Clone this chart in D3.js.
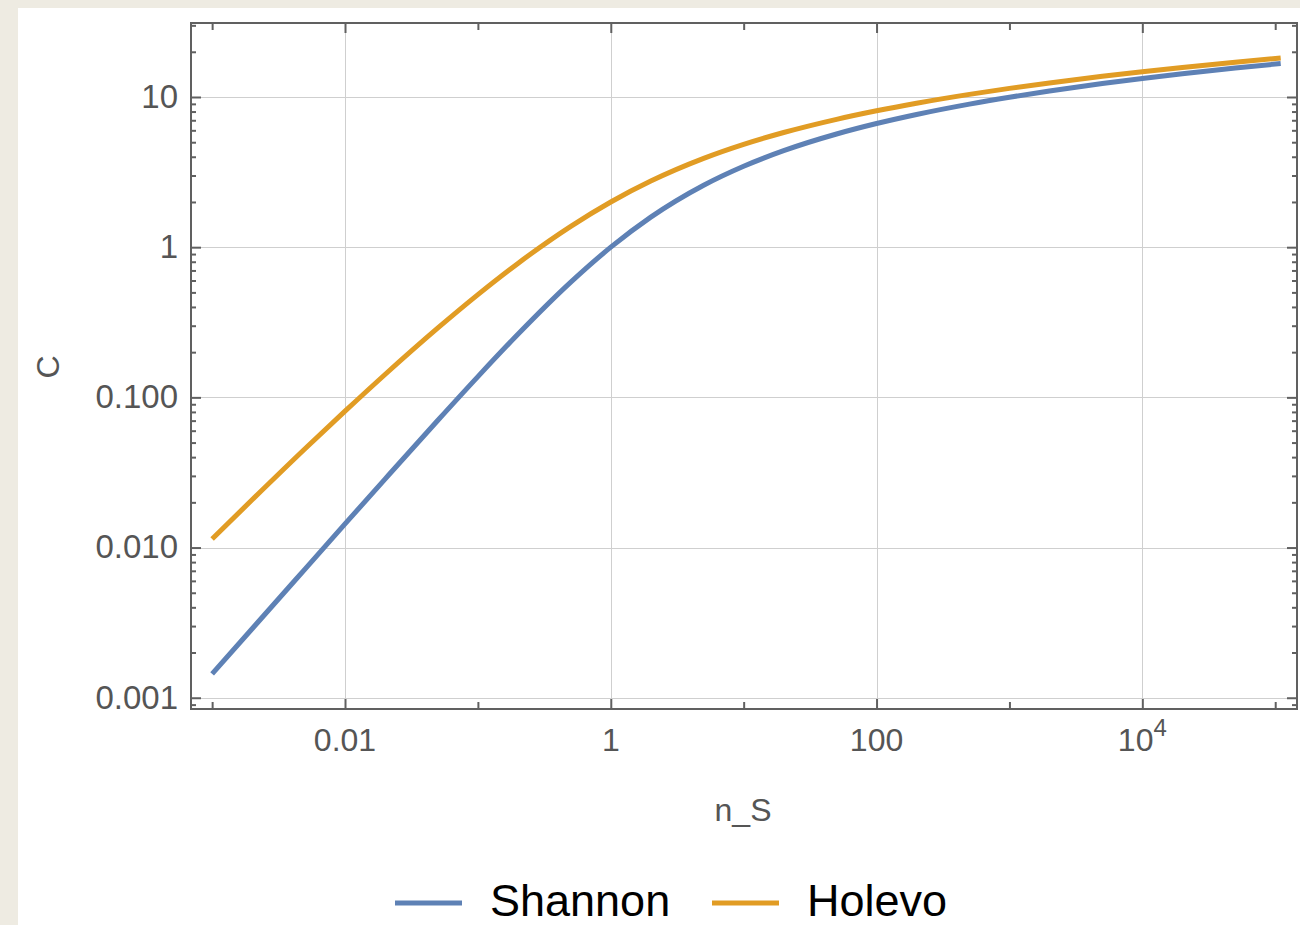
<!DOCTYPE html>
<html>
<head>
<meta charset="utf-8">
<script src="https://cdn.jsdelivr.net/npm/d3@7"></script>
<style>
  html, body { margin: 0; padding: 0; background: #eeebe2; }
  svg { display: block; }
</style>
</head>
<body>
<svg id="chart" width="1300" height="925"></svg>
<script>
// values (n_S on a log axis, capacity C on a log axis)
const nS = [0.001, 0.002, 0.005, 0.01, 0.02, 0.05, 0.1, 0.2, 0.5, 1, 2, 5, 10, 20, 50, 100, 200, 500, 1000, 2000, 5000, 1e4, 2e4, 5e4, 1.1e5];
const shannon = [0.00144, 0.00288, 0.00719, 0.01436, 0.02857, 0.0704, 0.1375, 0.263, 0.585, 1.0, 1.585, 2.585, 3.459, 4.392, 5.672, 6.658, 7.651, 8.969, 9.967, 10.966, 12.288, 13.288, 14.288, 15.61, 16.7];
const holevo = [0.0114, 0.0208, 0.0455, 0.0809, 0.142, 0.290, 0.4834, 0.780, 1.377, 2.0, 2.755, 3.900, 4.834, 5.800, 7.101, 8.093, 9.090, 10.410, 11.409, 12.409, 13.730, 14.731, 15.731, 17.053, 18.2];

const seriesNames = ["Shannon", "Holevo"];
const seriesColors = ["#5e81b5", "#e19c24"];

const xLabelValues = [0.01, 1, 100, 1e4];
const xLabelBase = ["0.01", "1", "100", "10"];
const xLabelSup = ["", "", "", "4"];
const xOddDecades = [0.001, 0.1, 10, 1000, 1e5];
const yLabelValues = [0.001, 0.01, 0.1, 1, 10];
const yLabelText = ["0.001", "0.010", "0.100", "1", "10"];

const svg = d3.select("#chart");
const font = "'Liberation Sans', Arial, sans-serif";
const grey = "#555555";

// white panel on the beige page
svg.append("rect").attr("x", 18).attr("y", 8).attr("width", 1282).attr("height", 917).attr("fill", "#ffffff");

const plot = { left: 191, right: 1297, top: 23, bottom: 709 };

const x = d3.scaleLog().domain([Math.pow(10, -3.159), Math.pow(10, 5.164)]).range([plot.left, plot.right]);
const y = d3.scaleLog().domain([Math.pow(10, -3.075), Math.pow(10, 1.4927)]).range([plot.bottom, plot.top]);

// minor y ticks 2..9 in each decade within range
let yMinor = [];
for (let e = -4; e <= 1; e++) {
    for (let m = 2; m <= 9; m++) {
        const v = m * Math.pow(10, e);
        if (v >= y.domain()[0] && v <= y.domain()[1]) yMinor.push(v);
    }
}

// grid
const grid = svg.append("g").attr("stroke", "#cfcfcf").attr("stroke-width", 1);
grid.selectAll(".vg").data(xLabelValues).enter().append("line")
    .attr("x1", d => Math.round(x(d)) + 0.5).attr("x2", d => Math.round(x(d)) + 0.5)
    .attr("y1", plot.top).attr("y2", plot.bottom);
grid.selectAll(".hg").data(yLabelValues).enter().append("line")
    .attr("y1", d => Math.round(y(d)) + 0.5).attr("y2", d => Math.round(y(d)) + 0.5)
    .attr("x1", plot.left).attr("x2", plot.right);

// axes (ticks point inward, labels drawn separately)
function styleAxis(g) {
    g.select(".domain").remove();
    g.selectAll(".tick line").attr("stroke", "#606060").attr("stroke-width", 2);
    g.selectAll(".tick text").remove();
}
svg.append("g").attr("transform", `translate(0,${plot.bottom})`)
    .call(d3.axisBottom(x).tickValues(xLabelValues).tickSize(-10)).call(styleAxis);
svg.append("g").attr("transform", `translate(0,${plot.bottom})`)
    .call(d3.axisBottom(x).tickValues(xOddDecades).tickSize(-7)).call(styleAxis);
svg.append("g").attr("transform", `translate(0,${plot.top})`)
    .call(d3.axisTop(x).tickValues(xLabelValues).tickSize(-10)).call(styleAxis);
svg.append("g").attr("transform", `translate(0,${plot.top})`)
    .call(d3.axisTop(x).tickValues(xOddDecades).tickSize(-7)).call(styleAxis);
svg.append("g").attr("transform", `translate(${plot.left},0)`)
    .call(d3.axisLeft(y).tickValues(yLabelValues).tickSize(-10)).call(styleAxis);
svg.append("g").attr("transform", `translate(${plot.left},0)`)
    .call(d3.axisLeft(y).tickValues(yMinor).tickSize(-5)).call(styleAxis);
svg.append("g").attr("transform", `translate(${plot.right},0)`)
    .call(d3.axisRight(y).tickValues(yLabelValues).tickSize(-10)).call(styleAxis);
svg.append("g").attr("transform", `translate(${plot.right},0)`)
    .call(d3.axisRight(y).tickValues(yMinor).tickSize(-5)).call(styleAxis);

// frame
svg.append("rect").attr("x", plot.left).attr("y", plot.top)
    .attr("width", plot.right - plot.left).attr("height", plot.bottom - plot.top)
    .attr("fill", "none").attr("stroke", "#606060").attr("stroke-width", 2);

// tick labels
const xl = svg.append("g").attr("font-family", font).attr("font-size", 32).attr("fill", grey);
xLabelValues.forEach((v, i) => {
    const t = xl.append("text").attr("x", x(v)).attr("y", 751).attr("text-anchor", "middle");
    t.append("tspan").text(xLabelBase[i]);
    if (xLabelSup[i]) t.append("tspan").attr("dy", -15).attr("font-size", 24).text(xLabelSup[i]);
});
svg.append("g").attr("font-family", font).attr("font-size", 33).attr("fill", grey)
    .selectAll("text").data(yLabelValues).enter().append("text")
    .attr("x", 178).attr("y", d => y(d)).attr("dy", "0.33em").attr("text-anchor", "end")
    .text((d, i) => yLabelText[i]);

// axis titles
svg.append("text").attr("x", 743).attr("y", 821).attr("text-anchor", "middle")
    .attr("font-family", font).attr("font-size", 32).attr("fill", grey).text("n_S");
svg.append("text").attr("transform", "translate(59,367) rotate(-90)").attr("text-anchor", "middle")
    .attr("font-family", font).attr("font-size", 32).attr("fill", grey).text("C");

// curves
const line = d3.line().x(d => x(d[0])).y(d => y(d[1])).curve(d3.curveMonotoneX);
[shannon, holevo].forEach((vals, i) => {
    svg.append("path")
        .datum(nS.map((n, j) => [n, vals[j]]))
        .attr("d", line)
        .attr("fill", "none")
        .attr("stroke", seriesColors[i])
        .attr("stroke-width", 5);
});

// legend
const legendX = [395, 712];
const lg = svg.append("g").attr("font-family", font).attr("font-size", 45).attr("fill", "#000");
seriesNames.forEach((name, i) => {
    lg.append("line").attr("x1", legendX[i]).attr("x2", legendX[i] + 67)
        .attr("y1", 903).attr("y2", 903)
        .attr("stroke", seriesColors[i]).attr("stroke-width", 5);
    lg.append("text").attr("x", legendX[i] + 95).attr("y", 916).text(name);
});
</script>
</body>
</html>
